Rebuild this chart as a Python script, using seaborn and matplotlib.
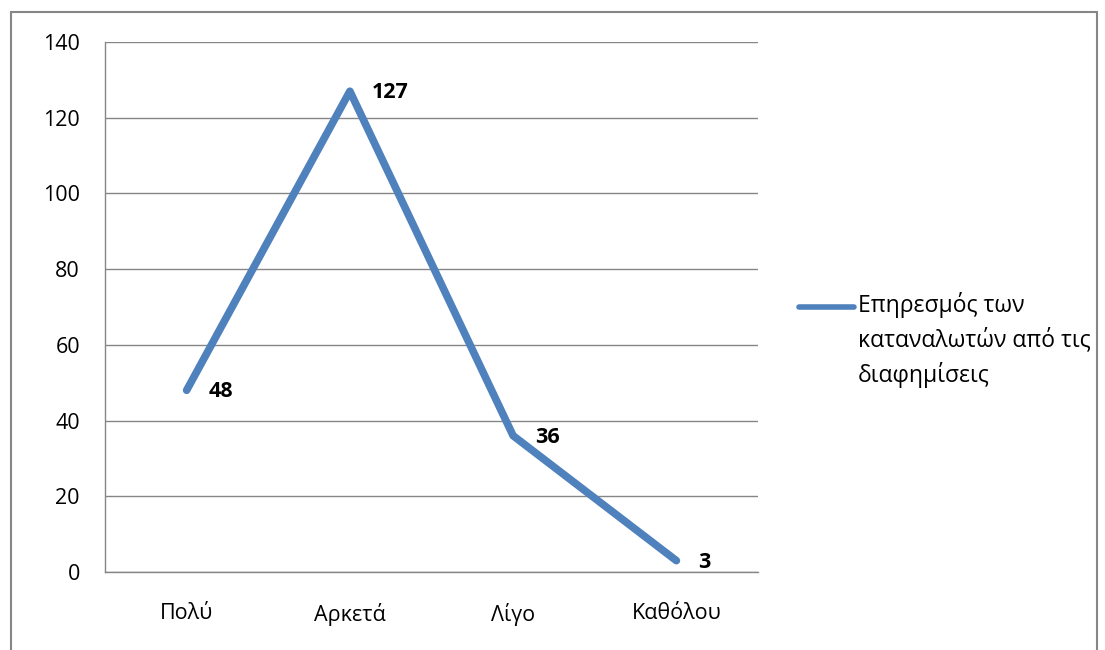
import pandas as pd
import matplotlib.pyplot as plt
import seaborn as sns
from matplotlib.patches import Rectangle

categories = ['Πολύ', 'Αρκετά', 'Λίγο', 'Καθόλου']
values = [48, 127, 36, 3]
series_name = 'Επηρεσμός των\nκαταναλωτών από τις\nδιαφημίσεις'

df = pd.DataFrame({'Κατηγορία': categories, 'Τιμή': values})

sns.set_style('white')
plt.rcParams['font.family'] = ['Open Sans', 'DejaVu Sans']

fig = plt.figure(figsize=(11.05, 6.5), dpi=100)
ax = fig.add_axes([105 / 1105, 1 - 572 / 650, 653 / 1105, 530 / 650])

sns.lineplot(x='Κατηγορία', y='Τιμή', data=df, ax=ax, color='#4F81BD',
             linewidth=5.5, solid_capstyle='round', sort=False,
             label=series_name)

for i, v in enumerate(values):
    ax.annotate(str(v), (i, v), xytext=(16, -1), textcoords='offset points',
                ha='left', va='center', fontsize=15.5, fontweight='bold',
                color='black')

ax.set_xlim(-0.5, 3.5)
ax.set_ylim(0, 140)
ax.set_yticks(range(0, 141, 20))
ax.yaxis.grid(True, color='#868686', linewidth=1)
ax.set_axisbelow(True)
ax.set_xlabel('')
ax.set_ylabel('')
for s in ['top', 'right']:
    ax.spines[s].set_visible(False)
for s in ['left', 'bottom']:
    ax.spines[s].set_color('#868686')
    ax.spines[s].set_linewidth(1)
ax.tick_params(axis='y', length=0, pad=18, labelsize=15.5, labelcolor='black')
ax.tick_params(axis='x', length=0, pad=22, labelsize=15.5, labelcolor='black')

leg = ax.legend(loc='upper left', bbox_to_anchor=(788 / 1105, 1 - 281 / 650),
                bbox_transform=fig.transFigure, frameon=False, fontsize=16.5,
                handlelength=2.4, handletextpad=0.15, borderpad=0,
                labelspacing=0)
for t in leg.get_texts():
    t.set_linespacing(1.5)
    t.set_color('black')
for line in leg.get_lines():
    line.set_linewidth(4)
    line.set_ydata([y + 24.5 for y in line.get_ydata()])

fig.patches.append(Rectangle((11 / 1105, -0.05), 1086 / 1105, 1.05 - 12 / 650,
                             transform=fig.transFigure, fill=False,
                             edgecolor='#868686', linewidth=1.5))

plt.savefig('out.png', dpi=100)
